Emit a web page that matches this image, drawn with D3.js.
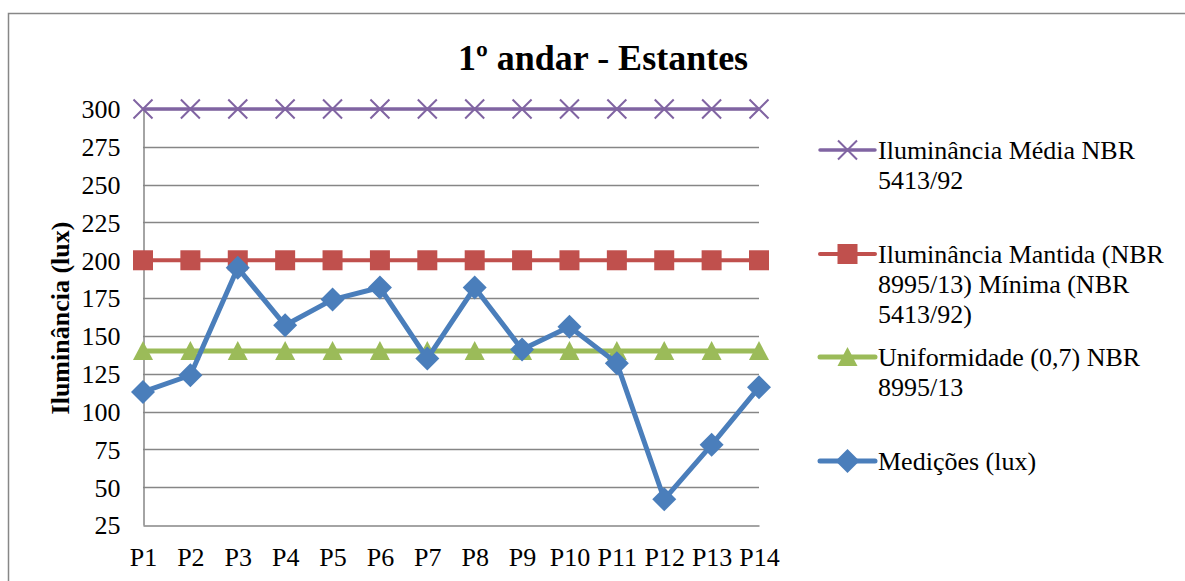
<!DOCTYPE html>
<html>
<head>
<meta charset="utf-8">
<script src="https://cdn.jsdelivr.net/npm/d3@7"></script>
<style>
  body { margin: 0; background: #fff; }
</style>
</head>
<body>
<svg id="chart" width="1185" height="581" font-family="Liberation Serif"></svg>
<script>
const categories = ['P1', 'P2', 'P3', 'P4', 'P5', 'P6', 'P7', 'P8', 'P9', 'P10', 'P11', 'P12', 'P13', 'P14'];
const media = [300, 300, 300, 300, 300, 300, 300, 300, 300, 300, 300, 300, 300, 300];
const mantida = [200, 200, 200, 200, 200, 200, 200, 200, 200, 200, 200, 200, 200, 200];
const uniformidade = [140, 140, 140, 140, 140, 140, 140, 140, 140, 140, 140, 140, 140, 140];
const medicoes = [113, 124, 195, 157, 174, 182, 135, 182, 141, 156, 132, 42, 78, 116];
const yTicks = [25, 50, 75, 100, 125, 150, 175, 200, 225, 250, 275, 300];

const FONT = 'Liberation Serif';

const series = [
  {name: ['Iluminância Média NBR', '5413/92'], values: media, color: '#8064A2', width: 3.5, marker: 'x', legendY: 150},
  {name: ['Iluminância Mantida (NBR', '8995/13) Mínima (NBR', '5413/92)'], values: mantida, color: '#C0504D', width: 4, marker: 'square', legendY: 254},
  {name: ['Uniformidade (0,7) NBR', '8995/13'], values: uniformidade, color: '#9BBB59', width: 5, marker: 'triangle', legendY: 357},
  {name: ['Medições (lux)'], values: medicoes, color: '#4A7EBB', width: 5, marker: 'diamond', legendY: 461},
];

const svg = d3.select('#chart');

// outer frame
svg.append('path')
    .attr('d', 'M8.5,581 L8.5,13.5 L1190,13.5')
    .attr('fill', 'none')
    .attr('stroke', '#878787')
    .attr('stroke-width', 1.5);

const x = d3.scalePoint().domain(categories).range([143, 759]);
const y = d3.scaleLinear().domain([25, 300]).range([525, 109]);

// grid
svg.append('g')
    .selectAll('line')
    .data(yTicks.slice(1))
    .enter()
    .append('line')
    .attr('x1', 143)
    .attr('x2', 759)
    .attr('y1', (d) => Math.round(y(d)) + 0.5)
    .attr('y2', (d) => Math.round(y(d)) + 0.5)
    .attr('stroke', '#868686')
    .attr('stroke-width', 1.3);

// axes
const yAxis = svg.append('g')
    .attr('transform', 'translate(143.5,0)')
    .call(d3.axisLeft(y).tickValues(yTicks).tickSize(0).tickPadding(23))
    .attr('font-family', FONT)
    .attr('font-size', 26);
yAxis.select('.domain').attr('stroke', '#868686').attr('stroke-width', 1.5);
yAxis.selectAll('text').attr('fill', '#000').attr('dy', '0.34em');

const xAxis = svg.append('g')
    .attr('transform', 'translate(0,525.5)')
    .call(d3.axisBottom(x).tickSize(0).tickPadding(22))
    .attr('font-family', FONT)
    .attr('font-size', 26);
xAxis.select('.domain').attr('stroke', '#868686').attr('stroke-width', 1.5);
xAxis.selectAll('text').attr('fill', '#000').attr('dy', '0.71em');

function drawMarker(g, type, color, cx, cy) {
  if (type === 'x') {
    const s = 9.5;
    g.append('path')
        .attr('d', `M${cx-s},${cy-s}L${cx+s},${cy+s}M${cx-s},${cy+s}L${cx+s},${cy-s}`)
        .attr('stroke', color)
        .attr('stroke-width', 2)
        .attr('fill', 'none');
  } else if (type === 'square') {
    g.append('rect')
        .attr('x', cx - 10).attr('y', cy - 10)
        .attr('width', 20).attr('height', 20)
        .attr('fill', color);
  } else if (type === 'triangle') {
    g.append('path')
        .attr('d', `M${cx},${cy-10}L${cx+10},${cy+9}L${cx-10},${cy+9}Z`)
        .attr('fill', color);
  } else {
    g.append('path')
        .attr('d', `M${cx},${cy-12}L${cx+12},${cy}L${cx},${cy+12}L${cx-12},${cy}Z`)
        .attr('fill', color);
  }
}

const line = d3.line()
    .x((d, i) => x(categories[i]))
    .y((d) => y(d));

series.forEach((s) => {
  const g = svg.append('g');
  g.append('path')
      .datum(s.values)
      .attr('d', line)
      .attr('fill', 'none')
      .attr('stroke', s.color)
      .attr('stroke-width', s.width)
      .attr('stroke-linejoin', 'round');
  s.values.forEach((v, i) => drawMarker(g, s.marker, s.color, x(categories[i]), y(v)));
});

// legend
series.forEach((s) => {
  const g = svg.append('g');
  g.append('line')
      .attr('x1', 820).attr('x2', 875)
      .attr('y1', s.legendY).attr('y2', s.legendY)
      .attr('stroke', s.color)
      .attr('stroke-width', s.width)
      .attr('stroke-linecap', 'round');
  drawMarker(g, s.marker, s.color, 847.5, s.legendY);
  s.name.forEach((t, k) => {
    g.append('text')
        .attr('x', 878)
        .attr('y', s.legendY + 9 + k * 30)
        .attr('font-family', FONT)
        .attr('font-size', 26)
        .text(t);
  });
});

// title
svg.append('text')
    .attr('x', 603)
    .attr('y', 70)
    .attr('text-anchor', 'middle')
    .attr('font-family', FONT)
    .attr('font-size', 36)
    .attr('font-weight', 'bold')
    .text('1º andar - Estantes');

// y axis title
svg.append('text')
    .attr('transform', 'translate(69,318) rotate(-90)')
    .attr('text-anchor', 'middle')
    .attr('font-family', FONT)
    .attr('font-size', 26)
    .attr('font-weight', 'bold')
    .text('Iluminância (lux)');
</script>
</body>
</html>
